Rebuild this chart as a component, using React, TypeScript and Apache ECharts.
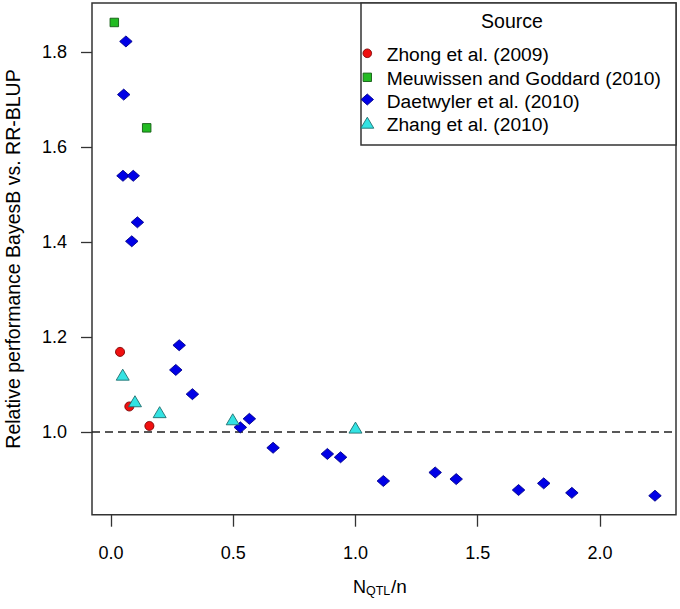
import React, { useEffect, useRef } from "react";
import * as echarts from "echarts";

// ---- data ----
const zhongX = [0.037, 0.075, 0.157];
const zhongY = [1.169, 1.054, 1.013];

const meuwissenX = [0.0135, 0.146];
const meuwissenY = [1.863, 1.641];

const daetwylerX = [0.061, 0.052, 0.049, 0.091, 0.108, 0.085, 0.279, 0.265, 0.333, 0.566, 0.529, 0.663, 0.885, 0.939, 1.114, 1.326, 1.412, 1.667, 1.77, 1.885, 2.225];
const daetwylerY = [1.823, 1.711, 1.54, 1.54, 1.442, 1.402, 1.183, 1.131, 1.08, 1.028, 1.01, 0.967, 0.954, 0.947, 0.897, 0.915, 0.901, 0.878, 0.892, 0.872, 0.866];

const zhangX = [0.048, 0.098, 0.199, 0.498, 1.0];
const zhangY = [1.121, 1.065, 1.042, 1.027, 1.0095];

const xTicks = [0, 0.5, 1, 1.5, 2];
const yTicks = [1.0, 1.2, 1.4, 1.6, 1.8];
const referenceLine = 1.0;

const legendTitle = "Source";
const seriesNames = ["Zhong et al. (2009)", "Meuwissen and Goddard (2010)", "Daetwyler et al. (2010)", "Zhang et al. (2010)"];
const yTitle = "Relative performance BayesB vs. RR-BLUP";

const FONT = "Liberation Sans, Arial, Helvetica, sans-serif";

const zip = (xs: number[], ys: number[]) => xs.map((x, i) => [x, ys[i]]);

const styles = [
  { symbol: "circle", size: 9, fill: "#f01010", stroke: "#7a0000" },
  { symbol: "rect", size: 8.5, fill: "#22bb22", stroke: "#145c14" },
  { symbol: "diamond", size: [12.5, 11], fill: "#0000e6", stroke: "#00008a" },
  { symbol: "triangle", size: [13, 11], fill: "#33e3e3", stroke: "#1f6f6f" },
];

export default function App() {
  const ref = useRef<HTMLDivElement>(null);

  useEffect(() => {
    if (!ref.current) return;
    const chart = echarts.init(ref.current, null, { renderer: "svg" });

    const dataSets = [
      zip(zhongX, zhongY),
      zip(meuwissenX, meuwissenY),
      zip(daetwylerX, daetwylerY),
      zip(zhangX, zhangY),
    ];

    const series: any[] = dataSets.map((d, i) => ({
      type: "scatter",
      name: seriesNames[i],
      data: d,
      symbol: styles[i].symbol,
      symbolSize: styles[i].size,
      z: 3,
      itemStyle: {
        color: styles[i].fill,
        borderColor: styles[i].stroke,
        borderWidth: 0.9,
        opacity: 1,
      },
      emphasis: { disabled: true },
    }));

    series[0].markLine = {
      silent: true,
      symbol: ["none", "none"],
      z: 1,
      label: { show: false },
      lineStyle: { color: "#222", width: 1.5, type: [8, 5] },
      data: [{ yAxis: referenceLine }],
    };

    // legend drawn with graphic elements
    const legLeft = 361;
    const legTop = 3;
    const legRight = 676;
    const legBottom = 145;
    const rowY = [53.3, 77.3, 99.5, 122.7];
    const markX = 367.3;
    const textX = 386.7;

    const legendGraphics: any[] = [
      {
        type: "rect",
        shape: { x: legLeft, y: legTop, width: legRight - legLeft, height: legBottom - legTop },
        style: { fill: "#fff", stroke: "#333", lineWidth: 1.5 },
        z: 10,
      },
      {
        type: "text",
        x: 512,
        y: 21,
        style: { text: legendTitle, font: `19.5px ${FONT}`, fill: "#000", align: "center", verticalAlign: "middle" },
        z: 11,
      },
    ];
    seriesNames.forEach((name, i) => {
      const cy = rowY[i];
      const st = styles[i];
      let shape: any;
      if (i === 0) {
        shape = { type: "circle", shape: { cx: markX, cy, r: 4.3 } };
      } else if (i === 1) {
        shape = { type: "rect", shape: { x: markX - 4.2, y: cy - 4.2, width: 8.4, height: 8.4 } };
      } else if (i === 2) {
        shape = { type: "polygon", shape: { points: [[markX, cy - 5.5], [markX + 6.2, cy], [markX, cy + 5.5], [markX - 6.2, cy]] } };
      } else {
        shape = { type: "polygon", shape: { points: [[markX, cy - 5.5], [markX + 6.5, cy + 5.5], [markX - 6.5, cy + 5.5]] } };
      }
      legendGraphics.push({ ...shape, style: { fill: st.fill, stroke: st.stroke, lineWidth: 0.9 }, z: 11 });
      legendGraphics.push({
        type: "text",
        x: textX,
        y: cy + 1.5,
        style: { text: name, font: `19.2px ${FONT}`, fill: "#000", align: "left", verticalAlign: "middle" },
        z: 11,
      });
    });

    const option: any = {
      animation: false,
      backgroundColor: "#fff",
      grid: {
        left: 92,
        top: 3,
        width: 584,
        height: 511.7,
        show: true,
        borderColor: "#333",
        borderWidth: 1.5,
        backgroundColor: "transparent",
        containLabel: false,
      },
      xAxis: {
        type: "value",
        position: "bottom",
        min: -0.0777,
        max: 2.311,
        axisLine: { show: false, onZero: false },
        splitLine: { show: false },
        axisTick: { show: true, inside: false, customValues: xTicks, length: 12, lineStyle: { color: "#333", width: 1.3 } },
        axisLabel: {
          show: true,
          customValues: xTicks,
          formatter: (v: number) => v.toFixed(1),
          fontFamily: FONT,
          fontSize: 18,
          color: "#000",
          margin: 29,
        },
      },
      yAxis: {
        type: "value",
        position: "left",
        min: 0.826,
        max: 1.904,
        axisLine: { show: false, onZero: false },
        splitLine: { show: false },
        axisTick: { show: true, inside: false, customValues: yTicks, length: 11, lineStyle: { color: "#333", width: 1.3 } },
        axisLabel: {
          show: true,
          customValues: yTicks,
          formatter: (v: number) => v.toFixed(1),
          fontFamily: FONT,
          fontSize: 18,
          color: "#000",
          margin: 25,
        },
      },
      series,
      graphic: [
        {
          type: "text",
          x: 13,
          y: 259,
          rotation: Math.PI / 2,
          style: { text: yTitle, font: `19.5px ${FONT}`, fill: "#000", align: "center", verticalAlign: "middle" },
        },
        {
          type: "text",
          x: 353,
          y: 596,
          style: { text: "N", font: `18px ${FONT}`, fill: "#000", align: "left", verticalAlign: "bottom" },
        },
        {
          type: "text",
          x: 366,
          y: 597.5,
          style: { text: "QTL", font: `12.5px ${FONT}`, fill: "#000", align: "left", verticalAlign: "bottom" },
        },
        {
          type: "text",
          x: 391,
          y: 596,
          style: { text: "/n", font: `19px ${FONT}`, fill: "#000", align: "left", verticalAlign: "bottom" },
        },
        ...legendGraphics,
      ],
    };

    chart.setOption(option);
    return () => chart.dispose();
  }, []);

  return (
    <div
      ref={ref}
      style={{ position: "absolute", left: 0, top: 0, width: 680, height: 609, background: "#fff" }}
    />
  );
}
